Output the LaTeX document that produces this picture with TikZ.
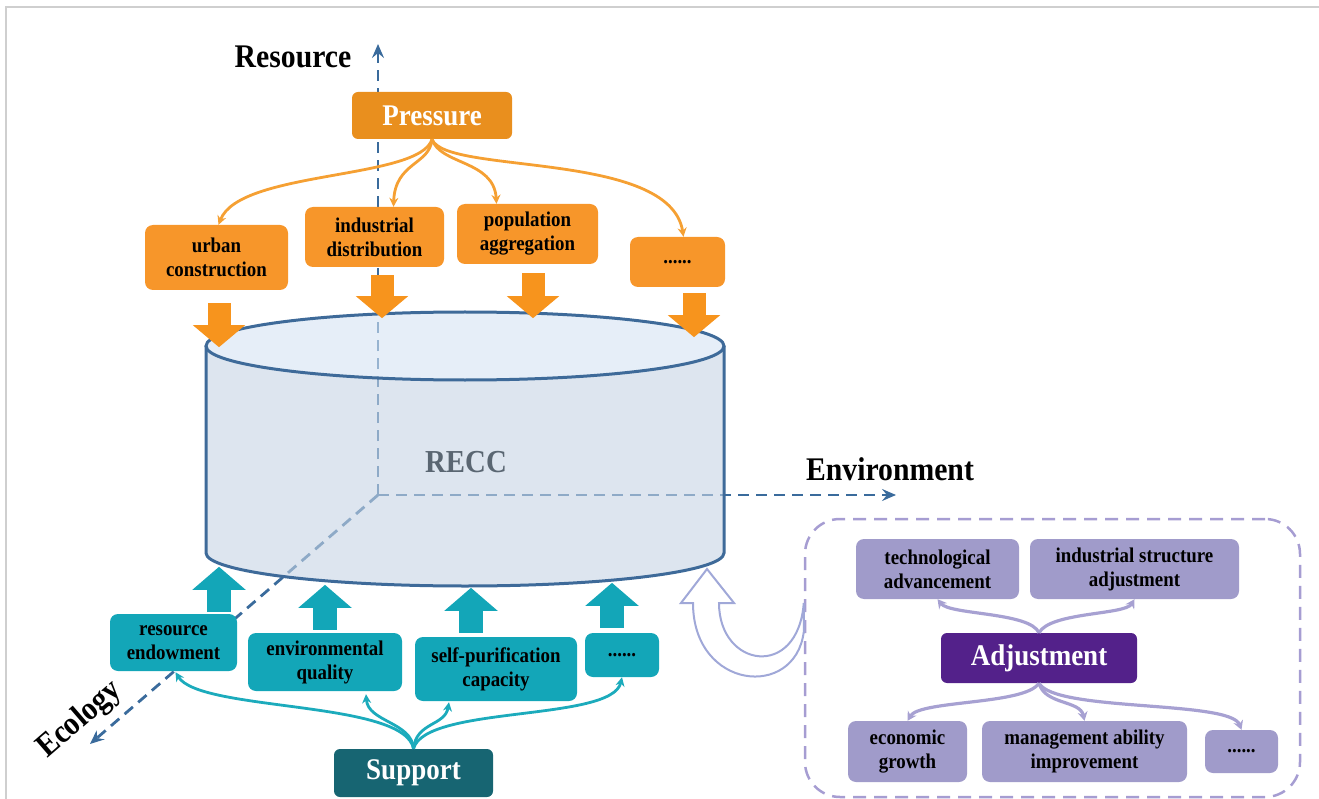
\documentclass[tikz,border=0pt]{standalone}
\usepackage{fontspec}
\setmainfont{Liberation Serif}[FakeStretch=0.9]
\usetikzlibrary{arrows.meta,calc}
\definecolor{pressC}{HTML}{E98F1E}
\definecolor{oboxC}{HTML}{F7962A}
\definecolor{oarrC}{HTML}{F7941D}
\definecolor{olineC}{HTML}{F5A033}
\definecolor{tboxC}{HTML}{13A6B8}
\definecolor{supC}{HTML}{176572}
\definecolor{tlineC}{HTML}{1CABBC}
\definecolor{vboxC}{HTML}{A09BCA}
\definecolor{adjC}{HTML}{53218A}
\definecolor{vlineC}{HTML}{A7A1D2}
\definecolor{vdashC}{HTML}{A69DD2}
\definecolor{axisC}{HTML}{3A6B9C}
\definecolor{cylEdgeC}{HTML}{3E6A99}
\definecolor{cylSideC}{HTML}{C6D4E4}
\definecolor{cylTopC}{HTML}{D5E3F3}
\definecolor{hollowC}{HTML}{A0A8D8}
\definecolor{reccC}{HTML}{5A6672}
\definecolor{frameC}{HTML}{CFCFCF}
\begin{document}
\begin{tikzpicture}[x=1pt,y=-1pt,
 box/.style={rounded corners=8pt,inner sep=0pt,align=center,text=black,font=\bfseries\fontsize{21}{24}\selectfont},
 obox/.style={box,fill=oboxC},
 tbox/.style={box,fill=tboxC},
 vbox/.style={box,fill=vboxC},
 headbox/.style={rounded corners=6pt,inner sep=0pt,text=white,font=\bfseries\fontsize{30}{33}\selectfont},
 ttl/.style={font=\bfseries\fontsize{33}{36}\selectfont,inner sep=0pt,text=black},
 axis/.style={draw=axisC,line width=2.8pt,dash pattern=on 11pt off 7pt,-{Stealth[length=14pt,width=12pt,inset=5pt]}},
 oline/.style={draw=olineC,line width=2.8pt,-{Stealth[length=9pt,width=9pt]}},
 tline/.style={draw=tlineC,line width=2.8pt,-{Stealth[length=9pt,width=9pt]}},
 vline/.style={draw=vlineC,line width=3.2pt,-{Stealth[length=9pt,width=10pt]}},
 oblk/.style={draw=oarrC,line width=23pt,-{Triangle[length=22pt,width=51pt]}},
 tblk/.style={draw=tboxC,line width=24pt,-{Triangle[length=23pt,width=52pt]}},
 cyledge/.style={draw=cylEdgeC,line width=3pt}
]
\useasboundingbox (0,0) rectangle (1319,799);
% frame
\draw[frameC,line width=2pt] (6,799) -- (6,7.5) -- (1319,7.5);

% axes
\coordinate (O) at (378,495);
\coordinate (resTip) at (378,44);
\coordinate (envTip) at (896,495);
\coordinate (ecoTip) at (90,744);
\draw[axis] (O) -- (resTip);
\draw[axis] (O) -- (envTip);
\draw[axis] (O) -- (ecoTip);

% cylinder
\coordinate (ctop) at (465,346);
\fill[cylSideC,fill opacity=0.6] (206,346) -- (206,553) arc[start angle=180,end angle=360,x radius=259pt,y radius=33pt] -- (724,346) arc[start angle=0,end angle=-180,x radius=259pt,y radius=34pt] -- cycle;
\fill[cylTopC,fill opacity=0.6] (ctop) ellipse[x radius=259pt,y radius=34pt];
\draw[cyledge] (206,346) -- (206,553) arc[start angle=180,end angle=360,x radius=259pt,y radius=33pt] -- (724,346);
\draw[cyledge] (ctop) ellipse[x radius=259pt,y radius=34pt];
\node[font=\bfseries\fontsize{32}{35}\selectfont,text=reccC,inner sep=0pt] (recc) at (466,462) {RECC};

% labels
\node[ttl] (res) at (293,57) {Resource};
\node[ttl] (env) at (890,469) {Environment};
\node[ttl,rotate=40.8] (eco) at (80,720) {Ecology};

% pressure side
\node[headbox,fill=pressC,minimum width=160pt,minimum height=47pt] (press) at (432,115.5) {Pressure};
\node[obox,minimum width=143pt,minimum height=65pt] (urban) at (216.5,257.5) {urban\\construction};
\node[obox,minimum width=139pt,minimum height=60pt] (ind) at (374.5,237) {industrial\\distribution};
\node[obox,minimum width=141pt,minimum height=60pt] (pop) at (527.5,234) {population\\aggregation};
\node[obox,minimum width=95pt,minimum height=50pt] (odots) at (677.5,262) {......};

\draw[oline] (press.south) .. controls (420,180) and (240,170) .. ($(urban.north)+(2,0)$);
\draw[oline] (press.south) .. controls (430,165) and (395,162) .. ($(ind.north)+(19,0)$);
\draw[oline] (press.south) .. controls (440,165) and (494,160) .. ($(pop.north)+(-31,0)$);
\draw[oline] (press.south) .. controls (445,175) and (670,150) .. ($(odots.north)+(6,0)$);

\draw[oblk] ($(urban.south)+(2.5,13)$) -- ($(urban.south)+(2.5,57)$);
\draw[oblk] ($(ind.south)+(7.5,8)$) -- ($(ind.south)+(7.5,51)$);
\draw[oblk] ($(pop.south)+(5.5,9)$) -- ($(pop.south)+(5.5,54)$);
\draw[oblk] ($(odots.south)+(16.5,6)$) -- ($(odots.south)+(16.5,50)$);

% support side
\node[headbox,fill=supC,minimum width=159pt,minimum height=48pt] (sup) at (413.5,773) {Support};
\node[tbox,minimum width=127pt,minimum height=57pt] (re) at (173.5,642.5) {resource\\endowment};
\node[tbox,minimum width=154pt,minimum height=58pt] (eq) at (325,662) {environmental\\quality};
\node[tbox,minimum width=162pt,minimum height=64pt] (sp) at (496,669) {self-purification\\capacity};
\node[tbox,minimum width=74pt,minimum height=44pt] (tdots) at (622,655) {......};

\draw[tline] (sup.north) .. controls (405,700) and (200,712) .. ($(re.south)+(2,1)$);
\draw[tline] (sup.north) .. controls (412,722) and (368,722) .. ($(eq.south)+(41,3)$);
\draw[tline] (sup.north) .. controls (416,722) and (445,726) .. ($(sp.south)+(-47,1)$);
\draw[tline] (sup.north) .. controls (425,705) and (612,722) .. (tdots.south);

\draw[tblk] ($(re.north)+(45.5,-2)$) -- ($(re.north)+(45.5,-47)$);
\draw[tblk] ($(eq.north)+(0,-3)$) -- ($(eq.north)+(0,-48)$);
\draw[tblk] ($(sp.north)+(-25,-4)$) -- ($(sp.north)+(-25,-49)$);
\draw[tblk] ($(tdots.north)+(-10,-5)$) -- ($(tdots.north)+(-10,-50)$);

% adjustment side
\node[draw=vdashC,line width=2.5pt,dash pattern=on 13pt off 8pt,rounded corners=35pt,minimum width=495pt,minimum height=278pt,inner sep=0pt] (adjframe) at (1052.5,658) {};
\node[headbox,fill=adjC,minimum width=196pt,minimum height=50pt] (adj) at (1039,658) {Adjustment};
\node[vbox,minimum width=163pt,minimum height=60pt] (tech) at (937.5,569) {technological\\advancement};
\node[vbox,minimum width=209pt,minimum height=60pt] (isa) at (1134.5,569) {industrial structure\\adjustment};
\node[vbox,minimum width=119pt,minimum height=61pt] (econ) at (907.5,751.5) {economic\\growth};
\node[vbox,minimum width=205pt,minimum height=61pt] (mgmt) at (1084.5,751.5) {management ability\\improvement};
\node[vbox,minimum width=73pt,minimum height=43pt] (vdots) at (1241.5,751.5) {......};

\draw[vline] (adj.north) .. controls (1030,612) and (950,615) .. (tech.south);
\draw[vline] (adj.north) .. controls (1050,612) and (1125,615) .. (isa.south);
\draw[vline] (adj.south) .. controls (1025,705) and (920,700) .. (econ.north);
\draw[vline] (adj.south) .. controls (1045,705) and (1080,700) .. (mgmt.north);
\draw[vline] (adj.south) .. controls (1055,712) and (1230,700) .. (vdots.north);

% hollow curved arrow from the adjustment frame to the cylinder
\coordinate (hTip) at (707,569);
\draw[hollowC,fill=white,line width=2pt,line join=miter] (hTip) -- (734,603) -- (719,603) .. controls (719,668) and (798,680) .. (adjframe.west |- 0,603) -- (adjframe.west |- 0,632) .. controls (795,700) and (693,690) .. (693,603) -- (681,603) -- cycle;
\end{tikzpicture}
\end{document}
